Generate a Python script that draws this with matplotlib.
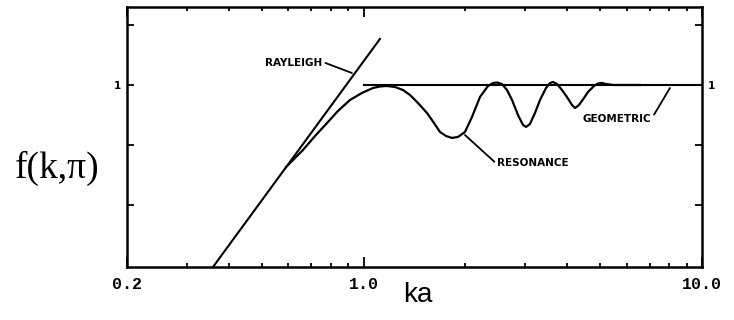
import numpy as np
import matplotlib
matplotlib.use('Agg')
import matplotlib.pyplot as plt
from matplotlib.ticker import FixedLocator, NullFormatter, NullLocator

# Rayleigh asymptote (two end points), resonance curve, geometric limit
rayleigh_ka = [0.359, 1.118]
rayleigh_f = [0.0304, 2.42]

resonance_ka = [0.590, 0.627, 0.662, 0.719, 0.780, 0.840, 0.912, 0.989, 1.066,
                1.118, 1.173, 1.239, 1.308, 1.372, 1.448, 1.540, 1.615, 1.682,
                1.752, 1.825, 1.901, 1.994, 2.091, 2.208, 2.332, 2.412, 2.480,
                2.565, 2.654, 2.746, 2.860, 2.960, 3.020, 3.102, 3.210, 3.322,
                3.460, 3.556, 3.630, 3.729, 3.858, 3.990, 4.130, 4.216, 4.330,
                4.480, 4.604, 4.796, 4.928, 5.064, 5.204, 5.458, 6.56]
resonance_f = [0.207, 0.246, 0.287, 0.376, 0.482, 0.607, 0.750, 0.858, 0.944,
               0.972, 0.981, 0.962, 0.908, 0.825, 0.708, 0.584, 0.482, 0.406,
               0.376, 0.362, 0.369, 0.406, 0.541, 0.794, 0.981, 1.039, 1.049,
               1.019, 0.908, 0.750, 0.562, 0.464, 0.447, 0.473, 0.584, 0.750,
               0.944, 1.039, 1.059, 1.019, 0.908, 0.794, 0.681, 0.643, 0.681,
               0.779, 0.874, 0.981, 1.029, 1.039, 1.019, 1.0, 1.0]

geometric_ka = [1.0, 10.0]
geometric_f = [1.0, 1.0]

xticks = [0.2, 1.0, 10.0]
xtick_labels = ['0.2', '1.0', '10.0']
xminor = [0.3, 0.4, 0.5, 0.6, 0.7, 0.8, 0.9, 2, 3, 4, 5, 6, 7, 8, 9]
yticks = [10 ** -1.0, 10 ** -0.5, 1.0, 10 ** 0.5]
ytick_labels = ['', '', '1', '']

fig = plt.figure(figsize=(7.34, 3.2), dpi=100)
ax = fig.add_axes([0.173, 0.1656, 0.7834, 0.8125])

ax.plot(rayleigh_ka, rayleigh_f, color='black', lw=1.5)
ax.plot(resonance_ka, resonance_f, color='black', lw=1.6,
        solid_joinstyle='round')
ax.plot(geometric_ka, geometric_f, color='black', lw=1.5)

ax.set_xscale('log')
ax.set_yscale('log')
ax.set_xlim(0.2, 10.0)
ax.set_ylim(10 ** -1.517, 10 ** 0.65)

ax.xaxis.set_major_locator(FixedLocator(xticks))
ax.set_xticklabels(xtick_labels)
ax.xaxis.set_minor_locator(FixedLocator(xminor))
ax.xaxis.set_minor_formatter(NullFormatter())
ax.yaxis.set_major_locator(FixedLocator(yticks))
ax.set_yticklabels(ytick_labels)
ax.yaxis.set_minor_locator(NullLocator())

ax.tick_params(which='both', direction='in', top=True, right=True, width=1.3)
ax.tick_params(axis='x', which='major', length=7, pad=7)
ax.tick_params(axis='x', which='minor', length=3)
ax.tick_params(axis='y', which='major', length=5, labelright=True, pad=4)
for lab in ax.get_xticklabels():
    lab.set_fontfamily('Liberation Mono')
    lab.set_fontweight('bold')
    lab.set_fontsize(12)
for lab in ax.get_yticklabels():
    lab.set_fontweight('bold')
    lab.set_fontsize(7.5)

for sp in ax.spines.values():
    sp.set_linewidth(1.8)

# curve labels with leader lines
ann = dict(fontsize=7.5, fontweight='bold', ha='center', va='center')
ax.annotate('RAYLEIGH', xy=(0.924, 1.259), xytext=(0.623, 1.525),
            arrowprops=dict(arrowstyle='-', lw=1.3, color='black',
                            shrinkA=0, shrinkB=0, relpos=(1.05, 0.5)), **ann)
ax.annotate('RESONANCE', xy=(1.994, 0.383), xytext=(3.166, 0.224),
            arrowprops=dict(arrowstyle='-', lw=1.3, color='black',
                            shrinkA=0, shrinkB=0, relpos=(-0.02, 0.5)), **ann)
ax.annotate('GEOMETRIC', xy=(8.04, 0.944), xytext=(5.608, 0.521),
            arrowprops=dict(arrowstyle='-', lw=1.3, color='black',
                            shrinkA=0, shrinkB=0, relpos=(1.02, 0.7)), **ann)

fig.text(0.0777, 0.475, 'f(k,\u03c0)', fontfamily='Liberation Serif',
         fontsize=27, ha='center', va='center')
fig.text(0.5695, 0.078, 'ka', fontfamily='Liberation Sans', fontsize=20,
         ha='center', va='center')

fig.savefig('out.png', dpi=100)
